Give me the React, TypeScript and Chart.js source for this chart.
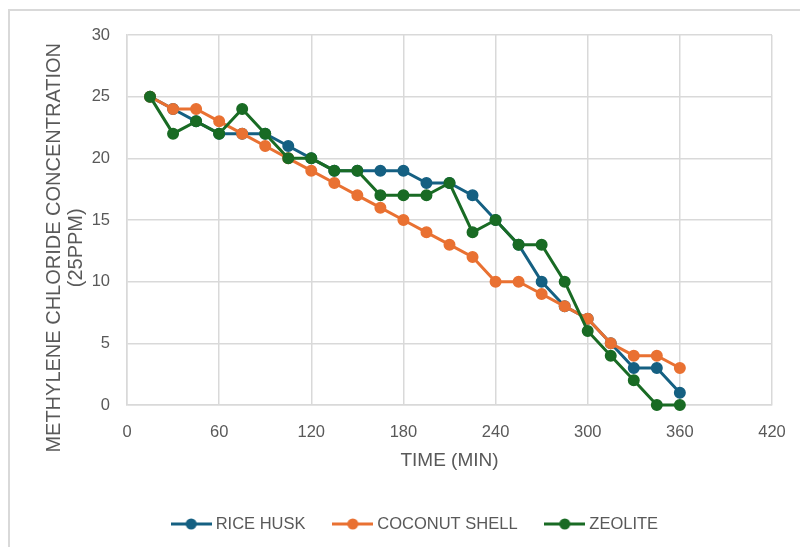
import React, { useEffect, useRef } from "react";
import { Chart, registerables } from "chart.js";

Chart.register(...registerables);

// ---- data ----
const times = [15, 30, 45, 60, 75, 90, 105, 120, 135, 150, 165, 180, 195, 210, 225, 240, 255, 270, 285, 300, 315, 330, 345, 360];
const riceHusk = [25, 24, 23, 22, 22, 22, 21, 20, 19, 19, 19, 19, 18, 18, 17, 15, 13, 10, 8, 7, 5, 3, 3, 1];
const coconutShell = [25, 24, 24, 23, 22, 21, 20, 19, 18, 17, 16, 15, 14, 13, 12, 10, 10, 9, 8, 7, 5, 4, 4, 3];
const zeolite = [25, 22, 23, 22, 24, 22, 20, 20, 19, 19, 17, 17, 17, 18, 14, 15, 13, 13, 10, 6, 4, 2, 0, 0];
const seriesNames = ["RICE HUSK", "COCONUT SHELL", "ZEOLITE"];
const seriesColors = ["#156082", "#E97132", "#196B24"];
const xTitle = "TIME (MIN)";
const yTitleLines = ["METHYLENE CHLORIDE CONCENTRATION", "(25PPM)"];

const FONT = "'Liberation Sans', Arial, sans-serif";
const TEXT = "#595959";
const GRID = "#d9d9d9";

function legendSwatch(color: string): HTMLCanvasElement {
  const c = document.createElement("canvas");
  c.width = 41;
  c.height = 12;
  const ctx = c.getContext("2d")!;
  ctx.strokeStyle = color;
  ctx.lineWidth = 3;
  ctx.beginPath();
  ctx.moveTo(0, 6);
  ctx.lineTo(41, 6);
  ctx.stroke();
  ctx.fillStyle = color;
  ctx.beginPath();
  ctx.arc(20.5, 6, 5.5, 0, Math.PI * 2);
  ctx.fill();
  return c;
}

export default function App() {
  const ref = useRef<HTMLCanvasElement | null>(null);

  useEffect(() => {
    if (!ref.current) return;
    const series = [riceHusk, coconutShell, zeolite];
    const swatches = seriesColors.map(legendSwatch);
    const pad = " ".repeat(10);
    const chart = new Chart(ref.current, {
      type: "line",
      data: {
        datasets: series.map((vals, i) => ({
          label: seriesNames[i],
          data: times.map((t, j) => ({ x: t, y: vals[j] })),
          borderColor: seriesColors[i],
          backgroundColor: seriesColors[i],
          pointBackgroundColor: seriesColors[i],
          pointBorderColor: seriesColors[i],
          borderWidth: 3,
          pointRadius: 5.25,
          pointBorderWidth: 1.5,
          tension: 0,
          clip: false as any,
          order: 3 - i,
        })),
      },
      options: {
        animation: false,
        responsive: false,
        devicePixelRatio: 1,
        layout: { padding: { left: 61, right: 28, top: 35, bottom: 4.75 } },
        plugins: {
          tooltip: { enabled: false },
          legend: {
            position: "bottom",
            labels: {
              usePointStyle: true,
              pointStyleWidth: 32.5,
              padding: 31,
              color: TEXT,
              font: { family: FONT, size: 16.5 },
              sort: (a: any, b: any) => a.datasetIndex - b.datasetIndex,
              generateLabels: (c: any) => {
                const items = Chart.defaults.plugins.legend.labels.generateLabels(c);
                return items.map((it: any) => ({ ...it, pointStyle: swatches[it.datasetIndex] }));
              },
            },
          },
        },
        scales: {
          x: {
            type: "linear",
            min: 0,
            max: 420,
            ticks: { stepSize: 60, color: TEXT, padding: 18, font: { family: FONT, size: 16.5 } },
            grid: { color: GRID, lineWidth: 1.5, drawTicks: false },
            border: { color: GRID, width: 1.5 },
            title: {
              display: true,
              text: xTitle,
              color: TEXT,
              font: { family: FONT, size: 19, lineHeight: 1.15 },
              padding: { top: 0, bottom: 12.75 },
            },
            afterFit: (s: any) => {
              s.height = 79.75;
              s.paddingRight = 0;
              s.paddingLeft = 0;
            },
          },
          y: {
            min: 0,
            max: 30,
            ticks: { stepSize: 5, color: TEXT, padding: 17, font: { family: FONT, size: 16.5 } },
            grid: { color: GRID, lineWidth: 1.5, drawTicks: false },
            border: { color: GRID, width: 1.5 },
            title: {
              display: true,
              text: yTitleLines.map((l) => l + pad),
              color: TEXT,
              font: { family: FONT, size: 20, lineHeight: 1.1 },
              padding: { top: -17.4, bottom: 0 },
            },
            afterFit: (s: any) => {
              s.width = 66;
            },
          },
        },
      } as any,
    });
    return () => chart.destroy();
  }, []);

  return (
    <div>
      <div
        style={{
          position: "absolute",
          left: 8,
          top: 9,
          width: 792,
          height: 538,
          boxSizing: "border-box",
          borderTop: "2px solid #d9d9d9",
          borderLeft: "2px solid #d9d9d9",
        }}
      />
      <canvas
        ref={ref}
        width={800}
        height={547}
        style={{ position: "absolute", left: 0, top: 0, width: 800, height: 547 }}
      />
    </div>
  );
}
